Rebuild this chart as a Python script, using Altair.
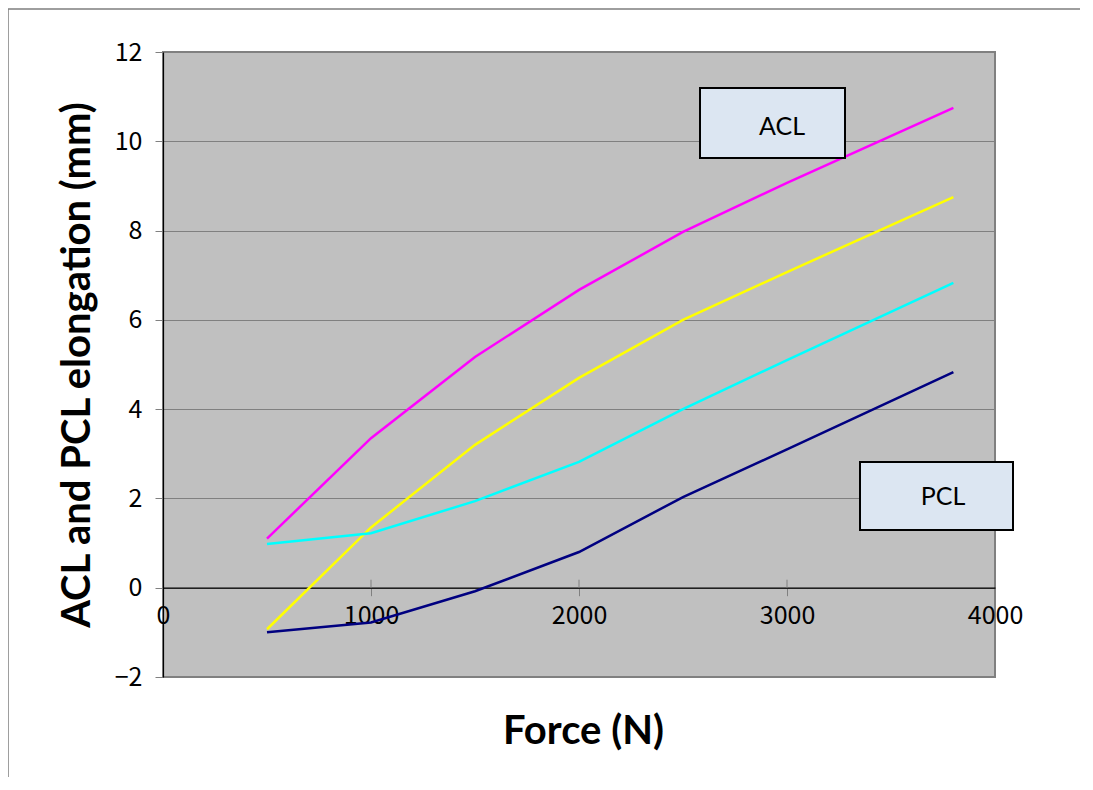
import altair as alt
import pandas as pd

force = [500, 1000, 1500, 2000, 2500, 3000, 3800]
magenta_vals = [1.1, 3.35, 5.17, 6.67, 7.97, 9.07, 10.75]
yellow_vals = [-0.93, 1.35, 3.2, 4.7, 6.0, 7.07, 8.75]
cyan_vals = [0.98, 1.22, 1.94, 2.82, 4.0, 5.1, 6.83]
navy_vals = [-1.0, -0.78, -0.08, 0.8, 2.03, 3.1, 4.83]

series_names = ["S1", "S2", "S3", "S4"]
series_colors = ["#ff00ff", "#ffff00", "#00ffff", "#000080"]
x_ticks = [0, 1000, 2000, 3000, 4000]
y_ticks = [-2, 0, 2, 4, 6, 8, 10, 12]
x_cross_ticks = [1000, 2000, 3000]

rows = []
for name, vals in zip(series_names, [magenta_vals, yellow_vals, cyan_vals, navy_vals]):
    for f, v in zip(force, vals):
        rows.append({"force": f, "value": v, "series": name})
df = pd.DataFrame(rows)

W, H = 832, 625
axis_y = H - 89.3  # position of y=0

xscale = alt.Scale(domain=[0, 4000], nice=False)
yscale = alt.Scale(domain=[-2, 12], nice=False)

tick_font = "Noto Sans CJK JP"
title_font = "Lato"

lines = alt.Chart(df).mark_line(strokeWidth=2.5).encode(
    x=alt.X("force:Q", scale=xscale,
            axis=alt.Axis(values=x_ticks, offset=-89.3, grid=False, format="d",
                          domainColor="black", domainWidth=1.2,
                          tickColor="#808080", tickSize=8,
                          labelFont=tick_font, labelFontSize=25, labelColor="black",
                          labelPadding=8, labelFlush=False,
                          title="Force (N)", titleFont=title_font, titleFontSize=40,
                          titleFontWeight="bold", titleColor="black",
                          titleX=420, titleY=144, titleBaseline="middle",
                          titleAnchor="start", titleAlign="center")),
    y=alt.Y("value:Q", scale=yscale,
            axis=alt.Axis(values=y_ticks, grid=True, gridColor="#808080", gridWidth=1,
                          domainColor="black", domainWidth=1.2,
                          tickColor="#808080", tickSize=8,
                          labelFont=tick_font, labelFontSize=25, labelColor="black",
                          labelPadding=13,
                          title="ACL and PCL elongation (mm)", titleFont=title_font,
                          titleFontSize=40, titleFontWeight="bold", titleColor="black",
                          titleX=-86, titleY=H / 2, titleBaseline="middle",
                          titleAlign="center", titleAnchor="start")),
    color=alt.Color("series:N", scale=alt.Scale(domain=series_names, range=series_colors),
                    legend=None),
    detail="series:N",
)

tick_df = pd.DataFrame({"t": x_cross_ticks})
up_ticks = alt.Chart(tick_df).mark_rule(color="#808080", strokeWidth=1).encode(
    x=alt.X("t:Q", scale=xscale),
    y=alt.value(axis_y - 8),
    y2=alt.value(axis_y),
)

frame = alt.Chart(pd.DataFrame({"a": [0]})).mark_rect(
    fill=None, stroke="#7f7f7f", strokeWidth=1.5
).encode(x=alt.value(-155), x2=alt.value(1200), y=alt.value(-43), y2=alt.value(900))

box_labels = ["ACL", "PCL"]
box_df = pd.DataFrame({
    "label": box_labels,
    "x1": [537, 697], "x2": [682, 850],
    "y1": [36, 410], "y2": [106, 478],
    "tx": [619, 780], "ty": [75, 445],
})
boxes = alt.Chart(box_df).mark_rect(fill="#dce6f2", stroke="black", strokeWidth=2).encode(
    x=alt.X("x1:Q", scale=None), x2="x2:Q",
    y=alt.Y("y1:Q", scale=None), y2="y2:Q",
)
box_text = alt.Chart(box_df).mark_text(
    font=title_font, fontSize=25, color="black", align="center", baseline="middle"
).encode(
    x=alt.X("tx:Q", scale=None), y=alt.Y("ty:Q", scale=None), text="label:N"
)

chart = alt.layer(frame, lines, up_ticks, boxes, box_text).properties(
    width=W, height=H,
    padding={"left": 155, "top": 44, "right": 85, "bottom": 100},
    autosize=alt.AutoSizeParams(type="none"),
    background="white",
).configure_view(
    fill="#c0c0c0", stroke="#808080", strokeWidth=2
)

chart.save("out.html", embed_options={"renderer": "svg", "actions": False})
